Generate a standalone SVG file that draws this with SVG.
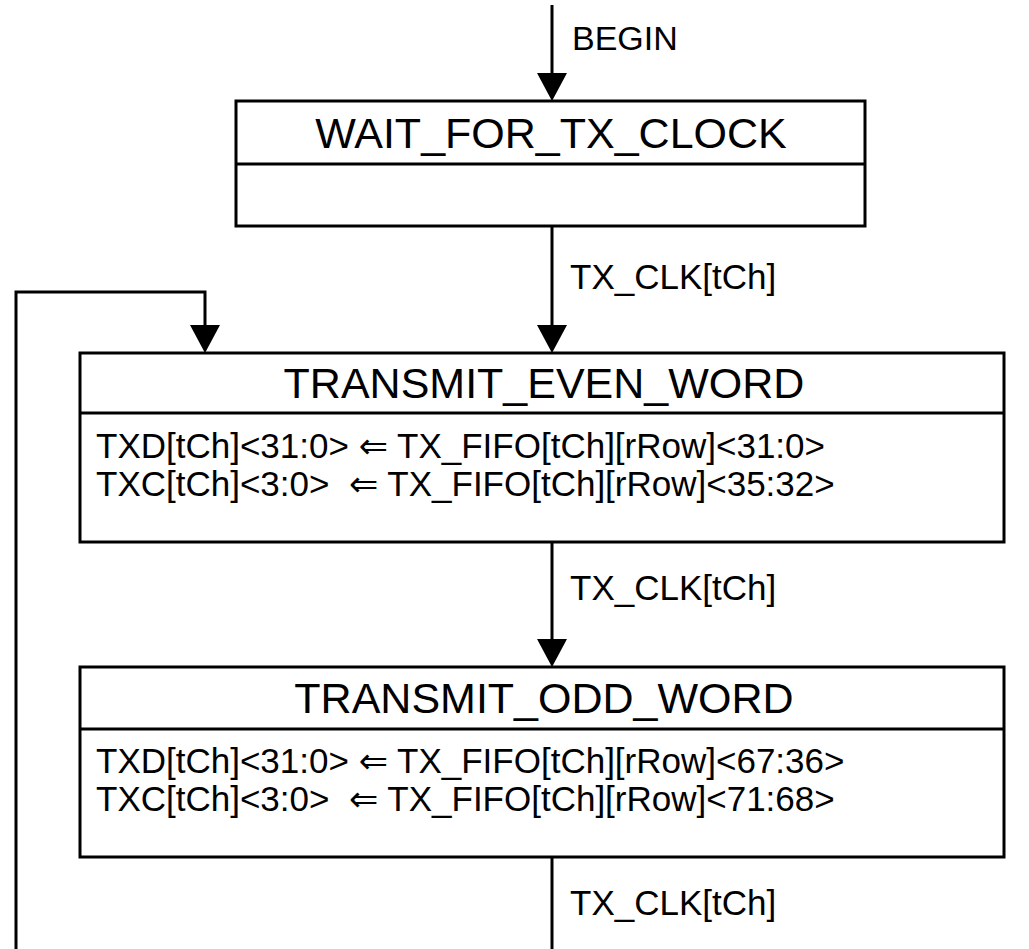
<svg xmlns="http://www.w3.org/2000/svg" width="1029" height="949" viewBox="0 0 1029 949">
  <style>
    .box { fill: #ffffff; stroke: #000000; stroke-width: 3; }
    .div { stroke: #000000; stroke-width: 3; fill: none; }
    .edge { stroke: #000000; stroke-width: 3; fill: none; }
    .head { fill: #000000; }
    .title { font-family: "Liberation Sans", Arial, sans-serif; font-size: 43px; fill: #000000; text-anchor: middle; }
    .body { font-family: "Liberation Sans", Arial, "DejaVu Sans", sans-serif; font-size: 35px; fill: #000000; white-space: pre; }
    .label { font-family: "Liberation Sans", Arial, sans-serif; font-size: 35px; fill: #000000; }
    .begin { font-family: "Liberation Sans", Arial, sans-serif; font-size: 34px; fill: #000000; }
  </style>
  <rect width="1029" height="949" fill="#ffffff"/>

  <!-- transitions -->
  <g id="connectors">
    <line class="edge" x1="552" y1="5" x2="552" y2="78"/>
    <path class="head" d="M537,73 L567,73 L552,101 z"/>
    <text class="begin" x="572" y="50">BEGIN</text>

    <line class="edge" x1="552" y1="226" x2="552" y2="330"/>
    <path class="head" d="M537,325 L567,325 L552,353 z"/>
    <text class="label" x="570" y="289">TX_CLK[tCh]</text>

    <line class="edge" x1="552" y1="542" x2="552" y2="644"/>
    <path class="head" d="M537,639 L567,639 L552,667 z"/>
    <text class="label" x="570" y="600">TX_CLK[tCh]</text>

    <line class="edge" x1="552" y1="857" x2="552" y2="949"/>
    <text class="label" x="570" y="915">TX_CLK[tCh]</text>

    <polyline class="edge" points="16,949 16,292 205,292 205,330"/>
    <path class="head" d="M190,325 L220,325 L205,353 z"/>
  </g>

  <g id="wait_for_tx_clock">
    <rect class="box" x="236" y="101" width="629" height="125"/>
    <line class="div" x1="236" y1="164" x2="865" y2="164"/>
    <text class="title" x="551" y="148">WAIT_FOR_TX_CLOCK</text>
  </g>

  <g id="transmit_even_word">
    <rect class="box" x="80" y="353" width="924" height="189"/>
    <line class="div" x1="80" y1="413" x2="1004" y2="413"/>
    <text class="title" x="544" y="398">TRANSMIT_EVEN_WORD</text>
    <text class="body" x="96" y="458">TXD[tCh]&lt;31:0&gt; ⇐ TX_FIFO[tCh][rRow]&lt;31:0&gt;</text>
    <text class="body" x="96" y="496">TXC[tCh]&lt;3:0&gt;  ⇐ TX_FIFO[tCh][rRow]&lt;35:32&gt;</text>
  </g>

  <g id="transmit_odd_word">
    <rect class="box" x="80" y="667" width="924" height="190"/>
    <line class="div" x1="80" y1="729" x2="1004" y2="729"/>
    <text class="title" x="544" y="713">TRANSMIT_ODD_WORD</text>
    <text class="body" x="96" y="773">TXD[tCh]&lt;31:0&gt; ⇐ TX_FIFO[tCh][rRow]&lt;67:36&gt;</text>
    <text class="body" x="96" y="811">TXC[tCh]&lt;3:0&gt;  ⇐ TX_FIFO[tCh][rRow]&lt;71:68&gt;</text>
  </g>
</svg>
